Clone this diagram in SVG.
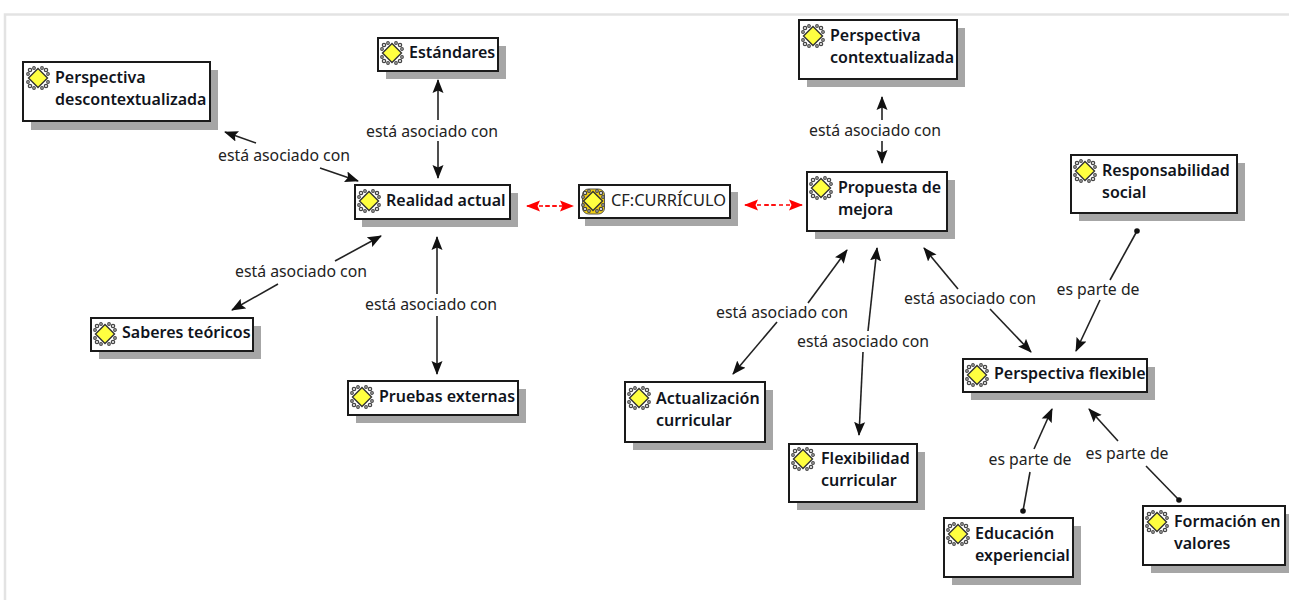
<svg xmlns="http://www.w3.org/2000/svg" width="1289" height="600" viewBox="0 0 1289 600">
<style>
.shadow{fill:#a6a6a6}
.box{fill:#fff;stroke:#1a1a1a;stroke-width:2}
.t{font-family:"Noto Sans","Open Sans",sans-serif;font-size:16px;font-weight:600;fill:#10141c}
.lab{font-family:"Noto Sans","Open Sans",sans-serif;font-size:15.800px;fill:#222;text-anchor:middle}
.cf{font-family:"Noto Sans","Open Sans",sans-serif;font-size:16.400px;fill:#222}
.c{stroke:#222;stroke-width:1.600;fill:none}
.r{stroke:#f00;stroke-width:1.500;stroke-dasharray:4 3;fill:none}
</style>
<defs>
<marker id="a" markerUnits="userSpaceOnUse" markerWidth="14" markerHeight="12" refX="13" refY="6" orient="auto-start-reverse"><path d="M0 0.500L14 6L0 11.500L2.500 6Z" fill="#111"/></marker>
<marker id="ar" markerUnits="userSpaceOnUse" markerWidth="14" markerHeight="12" refX="13" refY="6" orient="auto-start-reverse"><path d="M0 0.500L14 6L0 11.500L2.500 6Z" fill="#f00"/></marker>
<marker id="d" markerUnits="userSpaceOnUse" markerWidth="6" markerHeight="6" refX="3" refY="3"><circle cx="3" cy="3" r="2.800" fill="#111"/></marker>
<g id="ic">
<g fill="#eee" stroke="#444" stroke-width="1.200"><circle cx="-8" cy="-8" r="1.700"/><circle cx="-4" cy="-10" r="1.300"/><circle cx="-10" cy="-4" r="1.300"/><circle cx="8" cy="-8" r="1.700"/><circle cx="4" cy="-10" r="1.300"/><circle cx="10" cy="-4" r="1.300"/><circle cx="8" cy="8" r="1.700"/><circle cx="4" cy="10" r="1.300"/><circle cx="10" cy="4" r="1.300"/><circle cx="-8" cy="8" r="1.700"/><circle cx="-4" cy="10" r="1.300"/><circle cx="-10" cy="4" r="1.300"/></g>
<path d="M0-9.500L9.500 0L0 9.500L-9.500 0Z" fill="#ffff40" stroke="#333" stroke-width="1.400"/>
</g>
</defs>
<rect x="5" y="14.500" width="1290" height="600" fill="#fff" stroke="#e3e3e3" stroke-width="2.500"/>

<g id="connectors">
<path class="c" d="M256 143L225 132" marker-end="url(#a)"/>
<path class="c" d="M320 168L358 181" marker-end="url(#a)"/>
<path class="c" d="M438 120L438 80" marker-end="url(#a)"/>
<path class="c" d="M438 141L438 178" marker-end="url(#a)"/>
<path class="c" d="M335 261L381 236" marker-end="url(#a)"/>
<path class="c" d="M278 284L232 310" marker-end="url(#a)"/>
<path class="c" d="M437 294L437 237" marker-end="url(#a)"/>
<path class="c" d="M437 316L437 374" marker-end="url(#a)"/>
<path class="r" d="M557 206L527 206" marker-end="url(#ar)"/>
<path class="r" d="M545 206L573 206" marker-end="url(#ar)"/>
<path class="r" d="M775 205L745 205" marker-end="url(#ar)"/>
<path class="r" d="M765 205L802 205" marker-end="url(#ar)"/>
<path class="c" d="M882 120L882 97" marker-end="url(#a)"/>
<path class="c" d="M882 141L882 163" marker-end="url(#a)"/>
<path class="c" d="M808 303L847 250" marker-end="url(#a)"/>
<path class="c" d="M777 322L733 374" marker-end="url(#a)"/>
<path class="c" d="M868 331L877 248" marker-end="url(#a)"/>
<path class="c" d="M863 352L859 435" marker-end="url(#a)"/>
<path class="c" d="M958 289L924 248" marker-end="url(#a)"/>
<path class="c" d="M990 309L1031 352" marker-end="url(#a)"/>
<path class="c" d="M1137 231L1110 280" marker-start="url(#d)"/>
<path class="c" d="M1100 300L1076 351" marker-end="url(#a)"/>
<path class="c" d="M1023 511L1030 472" marker-start="url(#d)"/>
<path class="c" d="M1034 449L1052 409" marker-end="url(#a)"/>
<path class="c" d="M1179 500L1146 466" marker-start="url(#d)"/>
<path class="c" d="M1118 441L1089 409" marker-end="url(#a)"/>
</g>
<g id="labels">
<text class="lab" x="284" y="161">está asociado con</text>
<text class="lab" x="432" y="137">está asociado con</text>
<text class="lab" x="301" y="277">está asociado con</text>
<text class="lab" x="431" y="310">está asociado con</text>
<text class="lab" x="875" y="136">está asociado con</text>
<text class="lab" x="782" y="318">está asociado con</text>
<text class="lab" x="863" y="347">está asociado con</text>
<text class="lab" x="970" y="304">está asociado con</text>
<text class="lab" x="1098" y="295">es parte de</text>
<text class="lab" x="1030" y="465">es parte de</text>
<text class="lab" x="1127" y="459">es parte de</text>
</g>

<g id="n1"><rect class="shadow" x="31" y="70" width="187" height="60"/><rect class="box" x="23" y="62" width="187" height="59"/><use href="#ic" x="38" y="78"/><text class="t" x="55" y="83">Perspectiva</text><text class="t" x="55" y="105">descontextualizada</text></g>
<g id="n2"><rect class="shadow" x="386" y="46" width="120" height="33"/><rect class="box" x="378" y="38" width="120" height="33"/><use href="#ic" x="392" y="53"/><text class="t" x="409" y="58">Estándares</text></g>
<g id="n3"><rect class="shadow" x="362" y="193" width="156" height="34"/><rect class="box" x="355" y="185" width="155" height="34"/><use href="#ic" x="369" y="201"/><text class="t" x="386" y="206">Realidad actual</text></g>
<g id="n4"><rect class="shadow" x="585" y="192" width="153" height="34"/><rect class="box" x="579" y="185" width="151" height="33"/><rect x="582.500" y="189" width="22" height="25" rx="6" fill="#f2cf10" stroke="#555"/><use href="#ic" x="593" y="201"/><text class="cf" x="611" y="206">CF:CURRÍCULO</text></g>
<g id="n5"><rect class="shadow" x="815" y="180" width="140" height="59"/><rect class="box" x="807" y="172" width="140" height="59"/><use href="#ic" x="821" y="188"/><text class="t" x="838" y="193">Propuesta de</text><text class="t" x="838" y="215">mejora</text></g>
<g id="n6"><rect class="shadow" x="807" y="28" width="158" height="59"/><rect class="box" x="799" y="20" width="158" height="59"/><use href="#ic" x="813" y="36"/><text class="t" x="830" y="41">Perspectiva</text><text class="t" x="830" y="63">contextualizada</text></g>
<g id="n7"><rect class="shadow" x="1079" y="163" width="166" height="58"/><rect class="box" x="1071" y="155" width="166" height="58"/><use href="#ic" x="1085" y="171"/><text class="t" x="1102" y="176">Responsabilidad</text><text class="t" x="1102" y="198">social</text></g>
<g id="n8"><rect class="shadow" x="99" y="326" width="162" height="33"/><rect class="box" x="91" y="318" width="162" height="33"/><use href="#ic" x="105" y="334"/><text class="t" x="122" y="338">Saberes teóricos</text></g>
<g id="n9"><rect class="shadow" x="356" y="389" width="170" height="34"/><rect class="box" x="348" y="381" width="170" height="34"/><use href="#ic" x="362" y="397"/><text class="t" x="379" y="402">Pruebas externas</text></g>
<g id="n10"><rect class="shadow" x="633" y="390" width="140" height="60"/><rect class="box" x="625" y="382" width="140" height="60"/><use href="#ic" x="639" y="398"/><text class="t" x="656" y="404">Actualización</text><text class="t" x="656" y="426">curricular</text></g>
<g id="n11"><rect class="shadow" x="797" y="452" width="128" height="58"/><rect class="box" x="789" y="444" width="128" height="58"/><use href="#ic" x="803" y="459"/><text class="t" x="821" y="464">Flexibilidad</text><text class="t" x="821" y="486">curricular</text></g>
<g id="n12"><rect class="shadow" x="971" y="367" width="184" height="33"/><rect class="box" x="963" y="359" width="184" height="33"/><use href="#ic" x="977" y="375"/><text class="t" x="994" y="379">Perspectiva flexible</text></g>
<g id="n13"><rect class="shadow" x="952" y="526" width="129" height="59"/><rect class="box" x="944" y="518" width="129" height="59"/><use href="#ic" x="958" y="534"/><text class="t" x="975" y="539">Educación</text><text class="t" x="975" y="561">experiencial</text></g>
<g id="n14"><rect class="shadow" x="1151" y="514" width="142" height="59"/><rect class="box" x="1143" y="506" width="142" height="59"/><use href="#ic" x="1157" y="522"/><text class="t" x="1174" y="527">Formación en</text><text class="t" x="1174" y="549">valores</text></g>
</svg>
